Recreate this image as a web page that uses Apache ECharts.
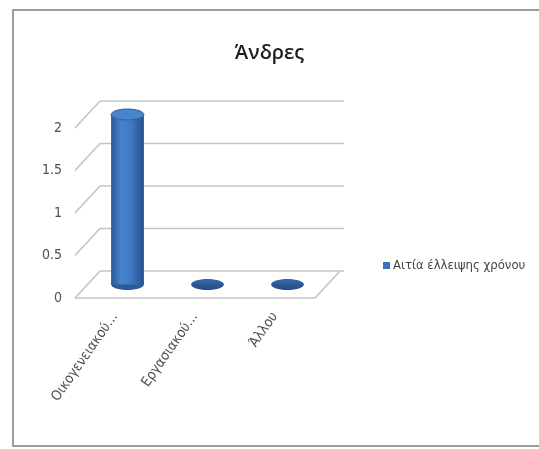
<!DOCTYPE html>
<html>
<head>
<meta charset="utf-8">
<script src="https://cdn.jsdelivr.net/npm/echarts@6/dist/echarts.min.js"></script>
<style>
html,body{margin:0;padding:0;background:#fff;}
#c{width:539px;height:449px;}
</style>
</head>
<body>
<div id="c"></div>
<script>
const categories = ['Οικογενειακού…', 'Εργασιακού…', 'Άλλου'];
const values = [2, 0, 0];
const seriesName = 'Αιτία έλλειψης χρόνου';
const tickValues = [0, 0.5, 1, 1.5, 2];
const titleText = 'Άνδρες';

const DX = 25, DY = -27;
const FONT = 'DejaVu Sans Condensed, Liberation Sans';
const chart = echarts.init(document.getElementById('c'));

function frameItem(params, api) {
  const cs = params.coordSys;
  const v = api.value(1);
  const y = api.coord([0, v])[1];
  const L = cs.x, R = cs.x + cs.width;
  const st = {stroke: '#c4c4c4', lineWidth: 1.6, fill: null};
  const ch = [
    {type: 'line', shape: {x1: L, y1: y, x2: L + DX, y2: y + DY}, style: st},
    {type: 'line', shape: {x1: L + DX, y1: y + DY, x2: R + DX + 4, y2: y + DY}, style: st}
  ];
  if (v === 0) {
    ch.push({type: 'line', shape: {x1: L, y1: y, x2: R, y2: y}, style: st});
    ch.push({type: 'line', shape: {x1: R, y1: y, x2: R + DX, y2: y + DY}, style: st});
  }
  return {type: 'group', children: ch};
}

function cylItem(params, api) {
  const idx = api.value(0);
  const top = api.coord([idx, api.value(1)]);
  const base = api.coord([idx, 0]);
  const w = api.size([1, 0])[0] * 0.41;
  const cx = base[0] + DX / 2;
  const by = base[1] + DY / 2;
  const ty = top[1] + DY / 2;
  const rx = w / 2, ry = 5.5;
  const ch = [];
  if (by - ty > 1) {
    ch.push({type: 'ellipse', shape: {cx: cx, cy: by, rx: rx, ry: ry},
      style: {fill: '#2c5b98'}});
    ch.push({type: 'rect', shape: {x: cx - rx, y: ty, width: w, height: by - ty},
      style: {fill: new echarts.graphic.LinearGradient(0, 0, 1, 0, [
        {offset: 0, color: '#2a5896'},
        {offset: 0.3, color: '#4783cc'},
        {offset: 0.6, color: '#3f79c2'},
        {offset: 1, color: '#26518d'}])}});
    ch.push({type: 'ellipse', shape: {cx: cx, cy: ty, rx: rx, ry: ry},
      style: {fill: '#4a85cc', stroke: '#2f62a3', lineWidth: 1}});
  } else {
    ch.push({type: 'ellipse', shape: {cx: cx, cy: by, rx: rx, ry: ry},
      style: {fill: new echarts.graphic.LinearGradient(0, 0, 0, 1, [
        {offset: 0, color: '#386aab'}, {offset: 1, color: '#214a84'}])}});
  }
  return {type: 'group', children: ch};
}

chart.setOption({
  backgroundColor: '#fff',
  animation: false,
  title: {
    text: titleText, left: 'center', top: 43,
    textStyle: {fontFamily: 'Open Sans', fontSize: 20, fontWeight: 600, color: '#1e1e1e'},
    padding: 0
  },
  legend: {
    data: [seriesName], left: 378, top: 254,
    icon: 'rect', itemWidth: 7, itemHeight: 7, itemGap: 4,
    textStyle: {fontFamily: FONT, fontSize: 13, color: '#444', padding: [0, 0, 0, -2]}
  },
  grid: {left: 75, top: 128, width: 240, height: 170, containLabel: false},
  xAxis: {
    type: 'category', data: categories,
    axisLine: {show: false}, axisTick: {show: false},
    axisLabel: {rotate: 55, margin: 16, fontFamily: FONT, fontSize: 14, color: '#505050', interval: 0}
  },
  yAxis: {
    type: 'value', min: 0, max: 2, interval: 0.5,
    axisLine: {show: false}, axisTick: {show: false}, splitLine: {show: false},
    axisLabel: {margin: 13, fontFamily: FONT, fontSize: 14, color: '#505050'}
  },
  graphic: [{
    type: 'polyline', silent: true, z: 0,
    shape: {points: [[545, 10], [13, 10], [13, 446], [545, 446]]},
    style: {stroke: '#9d9d9d', lineWidth: 2, fill: null}
  }],
  series: [
    {
      type: 'custom', name: 'frame', z: 1, silent: true,
      encode: {x: 0, y: 1},
      data: tickValues.map(v => [0, v]),
      renderItem: frameItem
    },
    {
      type: 'custom', name: seriesName, z: 3,
      itemStyle: {color: '#3c72b8'},
      encode: {x: 0, y: 1},
      data: values.map((v, i) => [i, v]),
      renderItem: cylItem
    }
  ]
});
</script>
</body>
</html>
